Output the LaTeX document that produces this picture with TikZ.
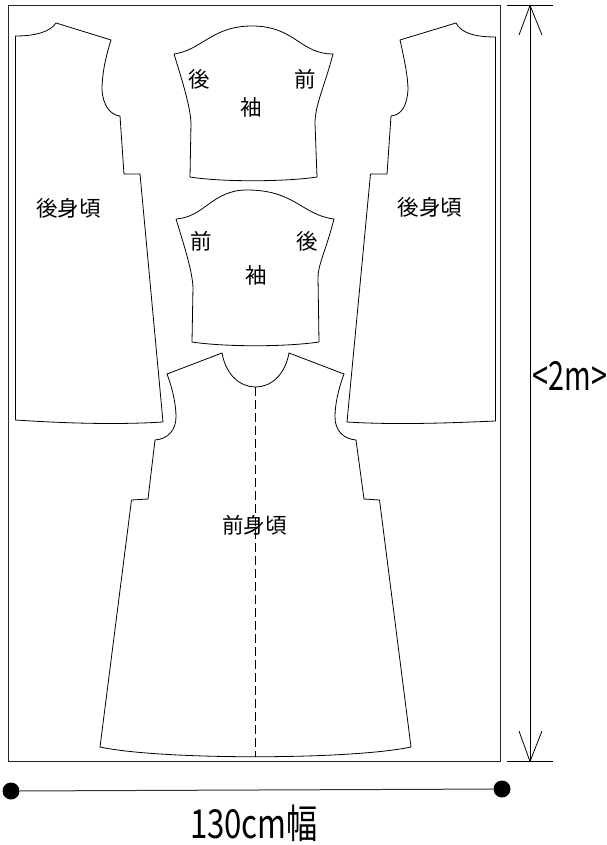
\documentclass[tikz,border=0pt]{standalone}
\usepackage{fontspec}
\setmainfont{Noto Sans CJK JP}
\usetikzlibrary{positioning}

\begin{document}
\begin{tikzpicture}[x=1pt,y=-1pt]
    \tikzstyle{piece}=[draw,line width=0.8pt,line join=miter]
    \tikzstyle{parttext}=[inner sep=0pt,font=\fontsize{21.5}{22}\selectfont]
    \tikzstyle{dimtext}=[inner sep=0pt,font=\fontsize{40}{40}\selectfont]
    \tikzstyle{enddot}=[circle,fill=black,inner sep=0pt,minimum size=17pt]
    \useasboundingbox (0,0) rectangle (607,845);
    % cloth
    \draw[line width=0.9pt,black!85] (8.5,5.5) rectangle (500,761.5);
    % back, left
    \draw[piece] (15.5,36) .. controls (35,36) and (50,32) .. (56,23) -- (111,40)
      .. controls (104,62) and (102,78) .. (102,90) .. controls (103,105) and (110,115) .. (120,116)
      -- (124,174) -- (140,174) -- (163,422) .. controls (115,425) and (60,423) .. (15.5,420) -- cycle;
    % back, right
    \draw[piece] (495.5,37) .. controls (475,37) and (461,33) .. (456,23) -- (400,40)
      .. controls (405,62) and (408,78) .. (408,90) .. controls (407,105) and (402,115) .. (391,116)
      -- (387,174) -- (370.5,174) -- (347,422) .. controls (395,425) and (450,423) .. (495.5,421) -- cycle;
    % sleeves
    \draw[piece] (174,54) .. controls (202,50) and (212,26) .. (252,26) .. controls (295,26) and (300,54) .. (333,54)
      .. controls (325,85) and (315,105) .. (315,123) -- (317,177) .. controls (285,182) and (220,182) .. (190,177)
      -- (191,123) .. controls (190,105) and (182,80) .. (174,54);
    \draw[piece] (176,219) .. controls (205,217) and (212,190) .. (247,190) .. controls (295,190) and (302,215) .. (334,219)
      .. controls (326,250) and (318,265) .. (318,277) -- (319,342) .. controls (285,347) and (225,347) .. (192,342)
      -- (193,287) .. controls (192,270) and (184,245) .. (176,219);
    % front
    \draw[piece] (222,353) .. controls (226,375) and (240,387) .. (255.5,387) .. controls (271,387) and (285,375) .. (289,353)
      -- (344,374) .. controls (338,390) and (335,405) .. (335,417) .. controls (335,430) and (343,439) .. (356,440)
      -- (364,499) -- (379.5,500) -- (411,747) .. controls (350,760) and (160,760) .. (100,747)
      -- (131.5,500) -- (148,499) -- (155,440) .. controls (168,439) and (176,430) .. (176,417)
      .. controls (176,405) and (173,390) .. (167,374) -- cycle;
    \coordinate (neck) at (255.5,387);
    \coordinate (hem) at (255.5,757);
    \draw[line width=0.8pt,dash pattern=on 9pt off 4pt] (neck) -- (hem);
    % texts on the pieces
    \node[parttext] (backl) at (68.5,208) {後身頃};
    \node[parttext] (backr) at (430,207) {後身頃};
    \node[parttext] (front) at (254.5,525) {前身頃};
    \node[parttext] (sa) at (199,79) {後};
    \node[parttext] (sb) at (305,79) {前};
    \node[parttext] (sc) at (251,107) {袖};
    \node[parttext] (sd) at (201,241) {前};
    \node[parttext] (se) at (307,241) {後};
    \node[parttext] (sf) at (256,275) {袖};
    % length
    \coordinate (topl) at (507,5.5);
    \coordinate (topr) at (553,5.5);
    \coordinate (botl) at (507,761.5);
    \coordinate (botr) at (553,761.5);
    \coordinate (top) at (530,5.5);
    \coordinate (bot) at (530,761.5);
    \draw[line width=0.8pt] (topl) -- (topr) (botl) -- (botr) (top) -- (bot);
    \draw[line width=0.8pt] (519,35) -- (top) -- (542,35) (519,731) -- (bot) -- (542,731);
    \node[dimtext] (len) at (570,376) {\scalebox{.72}[1]{<2m>}};
    % width
    \node[enddot] (wl) at (11,791) {};
    \node[enddot] (wr) at (502,789) {};
    \draw[line width=1pt,black!80] (wl) -- (wr);
    \node[dimtext] (wd) at (254,823) {\scalebox{.78}[1]{130cm幅}};
\end{tikzpicture}
\end{document}
